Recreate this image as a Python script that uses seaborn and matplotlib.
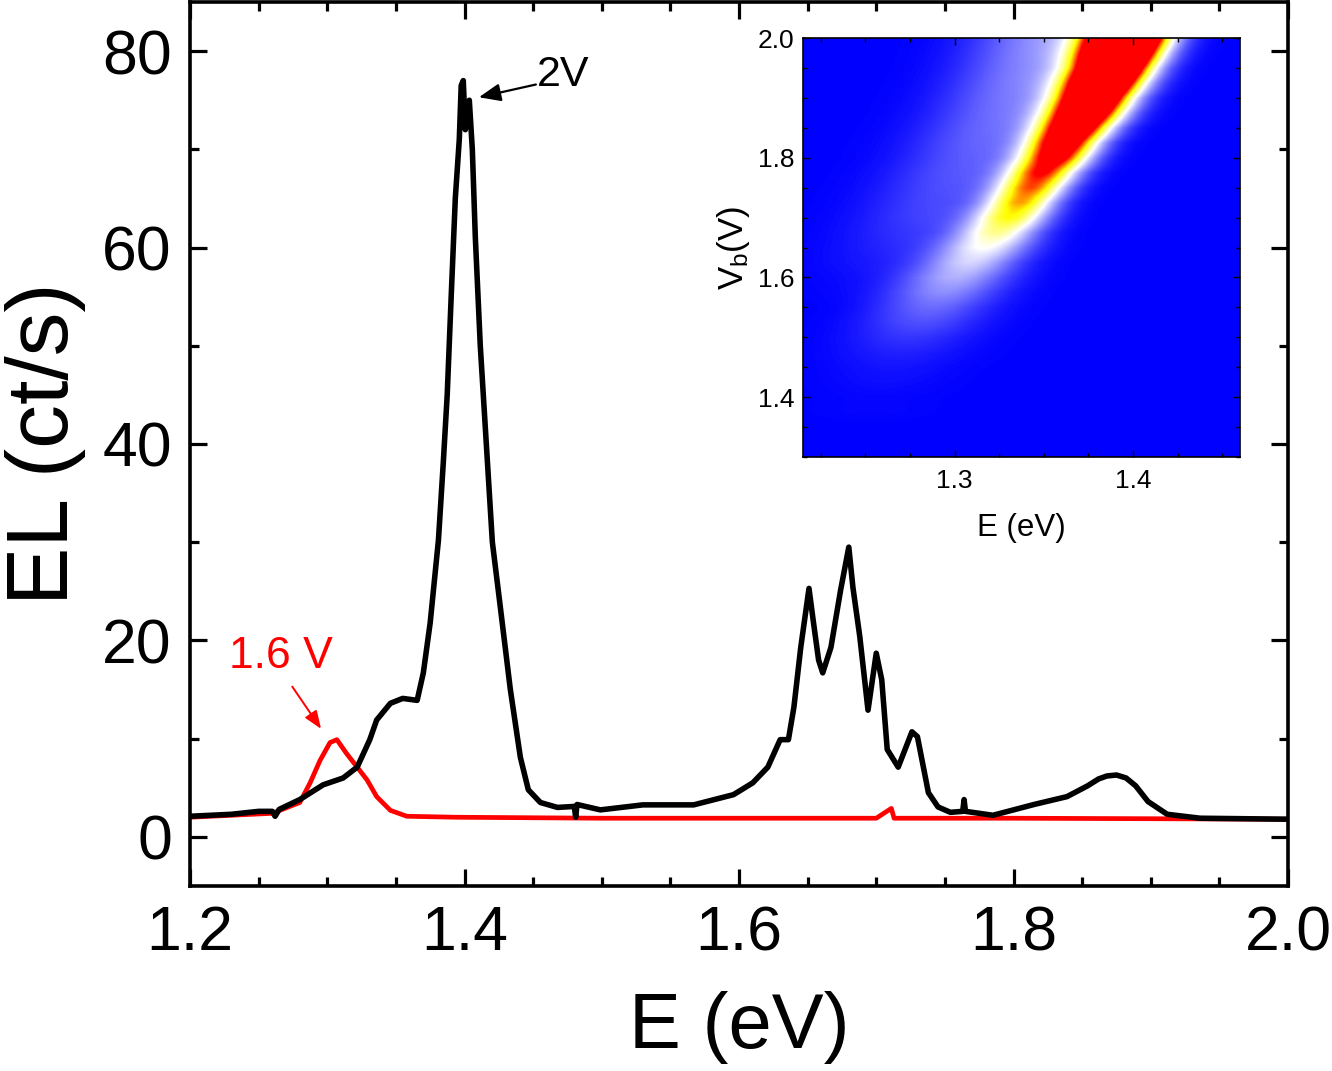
import numpy as np
import matplotlib
matplotlib.use('Agg')
import matplotlib.pyplot as plt
from matplotlib.colors import LinearSegmentedColormap
from matplotlib.ticker import MultipleLocator
import seaborn as sns

# EL spectrum at 2 V (black)
black_E = [1.200, 1.230, 1.250, 1.260, 1.262, 1.265, 1.280, 1.297, 1.3116, 1.3218,
           1.331, 1.336, 1.346, 1.355, 1.3655, 1.370, 1.375, 1.381, 1.3845, 1.3874,
           1.3903, 1.3933, 1.3962, 1.3976, 1.3991, 1.4006, 1.402, 1.4035, 1.4057, 1.4079,
           1.4115, 1.4159, 1.4203, 1.4261, 1.4334, 1.4407, 1.4465, 1.4553, 1.4677, 1.480,
           1.481, 1.482, 1.499, 1.530, 1.567, 1.596, 1.610, 1.621, 1.630, 1.636,
           1.640, 1.645, 1.651, 1.654, 1.658, 1.661, 1.667, 1.674, 1.680, 1.683,
           1.688, 1.694, 1.700, 1.704, 1.708, 1.716, 1.726, 1.730, 1.738, 1.745,
           1.754, 1.763, 1.764, 1.765, 1.785, 1.815, 1.839, 1.854, 1.862, 1.868,
           1.875, 1.882, 1.889, 1.898, 1.912, 1.936, 2.000]
black_I = [2.1, 2.3, 2.6, 2.6, 2.1, 2.8, 3.8, 5.3, 6.0, 7.1,
           9.9, 11.9, 13.6, 14.1, 13.9, 16.7, 21.8, 30.2, 38.0, 45.0,
           55.0, 65.0, 71.0, 76.5, 77.0, 72.0, 74.0, 75.0, 70.0, 61.0,
           50.0, 40.0, 30.0, 23.4, 15.0, 8.1, 4.8, 3.5, 3.0, 3.1,
           2.0, 3.3, 2.75, 3.26, 3.26, 4.3, 5.5, 7.1, 9.9, 9.9,
           13.2, 19.3, 25.3, 22.1, 18.0, 16.7, 19.3, 25.1, 29.5, 25.4,
           20.4, 12.9, 18.7, 16.0, 8.9, 7.1, 10.7, 10.2, 4.5, 3.05,
           2.5, 2.6, 3.8, 2.6, 2.2, 3.3, 4.1, 5.2, 5.9, 6.2,
           6.3, 6.0, 5.2, 3.6, 2.3, 1.9, 1.8]

# EL spectrum at 1.6 V (red)
red_E = [1.200, 1.260, 1.280, 1.2875, 1.2948, 1.302, 1.307, 1.314, 1.3218, 1.329,
         1.336, 1.346, 1.358, 1.394, 1.500, 1.700, 1.711, 1.713, 1.800, 2.000]
red_I = [2.0, 2.4, 3.5, 5.5, 7.8, 9.6, 9.9, 8.5, 7.1, 5.8,
         4.1, 2.7, 2.1, 2.0, 1.9, 1.9, 2.9, 1.9, 1.9, 1.8]

# inset map: ridge of the EL peak versus bias voltage
map_V = [1.300, 1.325, 1.350, 1.375, 1.400, 1.425, 1.450, 1.475, 1.500, 1.525,
         1.550, 1.575, 1.600, 1.625, 1.650, 1.675, 1.700, 1.725, 1.750, 1.775,
         1.800, 1.825, 1.850, 1.875, 1.900, 1.925, 1.950, 1.975, 2.000]
ridge_center = [1.245, 1.248, 1.251, 1.254, 1.257, 1.261, 1.265, 1.270, 1.275, 1.281,
                1.287, 1.294, 1.301, 1.309, 1.317, 1.324, 1.331, 1.337, 1.343, 1.349,
                1.356, 1.361, 1.367, 1.373, 1.378, 1.383, 1.388, 1.392, 1.396]
ridge_width = [0.026, 0.026, 0.026, 0.026, 0.026, 0.026, 0.026, 0.026, 0.025, 0.024,
               0.023, 0.022, 0.021, 0.019, 0.018, 0.016, 0.015, 0.014, 0.014, 0.014,
               0.014, 0.014, 0.0145, 0.015, 0.0150, 0.0155, 0.0155, 0.016, 0.016]
ridge_peak = [0.0, 0.0, 0.0, 0.01, 0.01, 0.02, 0.03, 0.05, 0.08, 0.12,
              0.16, 0.21, 0.26, 0.31, 0.37, 0.45, 0.55, 0.62, 0.68, 0.75,
              0.85, 0.95, 1.05, 1.15, 1.25, 1.35, 1.45, 1.55, 1.65]
haze_level = [0, 0, 0, 0, 0, 0, 0, 0, 0, 0,
              0.0, 0.01, 0.02, 0.04, 0.06, 0.08, 0.10, 0.11, 0.12, 0.13,
              0.14, 0.15, 0.16, 0.17, 0.18, 0.19, 0.20, 0.21, 0.22]

sns.set_theme(style='ticks')
plt.rcParams['font.family'] = ['Liberation Sans', 'DejaVu Sans']
plt.rcParams['mathtext.default'] = 'regular'

fig = plt.figure(figsize=(13.32, 10.71), dpi=100)
ax = fig.add_axes([190 / 1332, 1 - 886 / 1071, 1098 / 1332, 884 / 1071])

sns.lineplot(x=red_E, y=red_I, ax=ax, color='#ff0000', lw=3.4, sort=False, estimator=None)
sns.lineplot(x=black_E, y=black_I, ax=ax, color='black', lw=4.0, sort=False, estimator=None)

ax.set_xlim(1.2, 2.0)
ax.set_ylim(-5, 85)
ax.xaxis.set_major_locator(MultipleLocator(0.2))
ax.xaxis.set_minor_locator(MultipleLocator(0.05))
ax.yaxis.set_major_locator(MultipleLocator(20))
ax.yaxis.set_minor_locator(MultipleLocator(10))
ax.tick_params(which='both', direction='in', top=True, right=True, width=2.3, colors='black')
ax.tick_params(which='major', length=12, labelsize=45, pad=13)
ax.tick_params(which='minor', length=6.5)
for s in ax.spines.values():
    s.set_linewidth(2.6)
    s.set_color('black')
ax.set_xlabel('E (eV)', fontsize=56, labelpad=20, color='black')
ax.set_ylabel('EL (ct/s)', fontsize=63, labelpad=12, color='black')

# annotations
ax.text(1.453, 77.6, '2V', fontsize=31, ha='left', va='center', color='black')
ax.annotate('', xy=(1.4105, 75.3), xytext=(1.452, 76.6),
            arrowprops=dict(arrowstyle='-|>,head_length=1.1,head_width=0.45',
                            color='black', lw=1.6, shrinkA=0, shrinkB=0))
ax.text(1.2664, 18.4, '1.6 V', fontsize=32, ha='center', va='center', color='#ff0000')
ax.annotate('', xy=(1.2955, 11.0), xytext=(1.2745, 15.3),
            arrowprops=dict(arrowstyle='-|>,head_length=0.9,head_width=0.35',
                            color='#ff0000', lw=1.4, shrinkA=0, shrinkB=0))

# inset map
E_grid = np.linspace(1.215, 1.46, 500)
rows = []
for c, w, p, h in zip(ridge_center, ridge_width, ridge_peak, haze_level):
    rows.append(p * np.exp(-0.5 * ((E_grid - c) / w) ** 2)
                + h * np.exp(-0.5 * ((E_grid - (c - 0.045)) / 0.028) ** 2))
img = np.array(rows)

cmap = LinearSegmentedColormap.from_list(
    'bwyr', [(0.0, '#0000ff'), (0.38, '#ffffff'), (0.58, '#ffff00'),
             (0.76, '#ff0000'), (1.0, '#ff0000')])

axi = fig.add_axes([803 / 1332, 1 - 457 / 1071, 437 / 1332, 419 / 1071])
axi.imshow(img, origin='lower', aspect='auto', cmap=cmap, vmin=0, vmax=1,
           extent=[1.215, 1.46, 1.2875, 2.0125],
           interpolation='bilinear', interpolation_stage='data')
axi.set_xlim(1.215, 1.46)
axi.set_ylim(1.3, 2.0)
axi.set_xticks([1.3, 1.4])
axi.set_yticks([1.4, 1.6, 1.8, 2.0])
axi.xaxis.set_minor_locator(MultipleLocator(0.025))
axi.yaxis.set_minor_locator(MultipleLocator(0.05))
axi.tick_params(which='both', direction='in', top=True, right=True, width=1.0, colors='black')
axi.tick_params(which='major', length=5, labelsize=19, pad=9)
axi.tick_params(which='minor', length=3)
axi.tick_params(axis='y', pad=6)
for s in axi.spines.values():
    s.set_linewidth(1.2)
    s.set_color('black')
axi.set_xlabel('E (eV)', fontsize=22.5, labelpad=14, color='black')
axi.set_ylabel('V$_b$(V)', fontsize=25, labelpad=4, color='black')

fig.savefig('out.png', dpi=100)
